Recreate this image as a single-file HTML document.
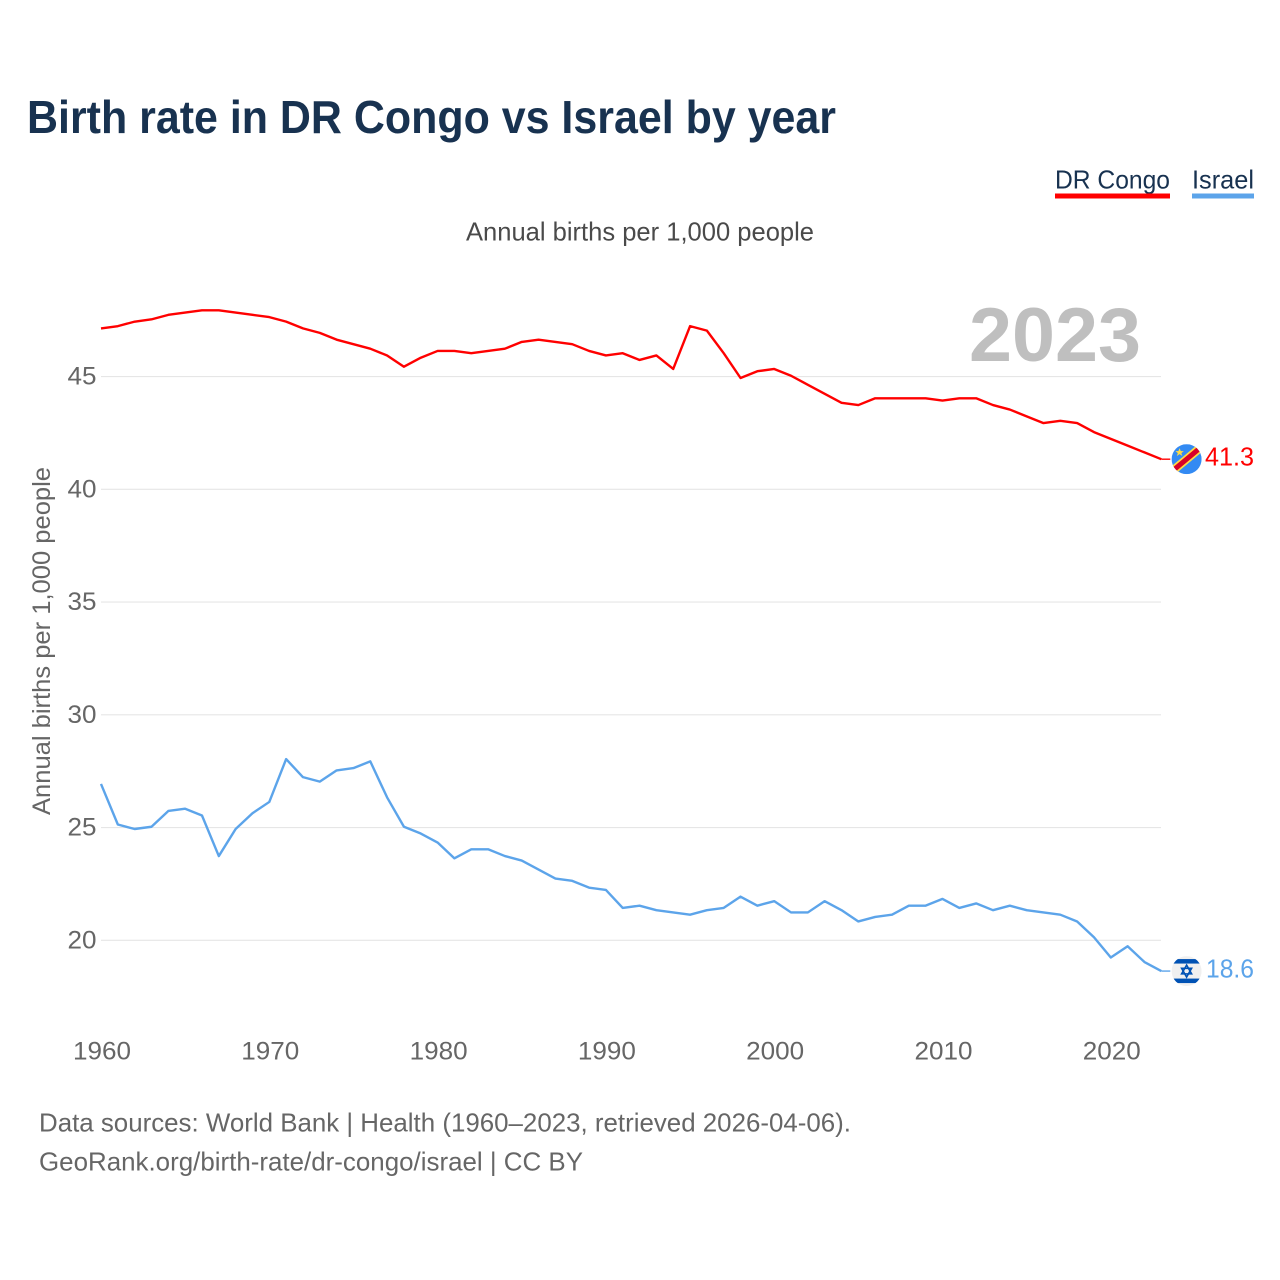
<!DOCTYPE html>
<html lang="en">
<head>
<meta charset="utf-8">
<title>Birth rate in DR Congo vs Israel by year</title>
<style>
html,body{margin:0;padding:0;background:#fff;width:1280px;height:1280px;overflow:hidden}
svg{display:block}
text{font-family:"Liberation Sans",sans-serif}
</style>
</head>
<body>
<svg id="chart" width="1280" height="1280" viewBox="0 0 1280 1280" xmlns="http://www.w3.org/2000/svg">
  <rect x="0" y="0" width="1280" height="1280" fill="#ffffff"/>
  <text x="27" y="133" font-size="46" font-weight="700" fill="#183250" textLength="809" lengthAdjust="spacingAndGlyphs">Birth rate in DR Congo vs Israel by year</text>
  <text x="1055" y="188.5" font-size="26" fill="#183250" textLength="115" lengthAdjust="spacingAndGlyphs">DR Congo</text>
  <rect x="1055" y="193.5" width="115" height="5" fill="#ff0000"/>
  <text x="1192" y="188.5" font-size="26" fill="#183250" textLength="62" lengthAdjust="spacingAndGlyphs">Israel</text>
  <rect x="1192" y="193.5" width="62" height="5" fill="#5ca4ea"/>
  <text x="466" y="240.5" font-size="26" fill="#4a4a4a" textLength="348" lengthAdjust="spacingAndGlyphs">Annual births per 1,000 people</text>
  <text x="969" y="361" font-size="76" font-weight="700" fill="#bfbfbf" textLength="172" lengthAdjust="spacingAndGlyphs">2023</text>
  <text transform="translate(50,815) rotate(-90)" x="0" y="0" font-size="25" fill="#666666" textLength="348" lengthAdjust="spacingAndGlyphs">Annual births per 1,000 people</text>
  <g id="grid"></g>
  <g id="yticks"></g>
  <g id="xticks"></g>
  <g id="series"></g>

  <g id="flag-congo">
    <clipPath id="clip-congo"><circle cx="0" cy="0" r="15"/></clipPath>
    <g clip-path="url(#clip-congo)">
      <rect x="-15" y="-15" width="30" height="30" fill="#338af3"/>
      <line x1="-18" y1="15" x2="18" y2="-15" stroke="#ffda44" stroke-width="8.5"/>
      <line x1="-18" y1="15" x2="18" y2="-15" stroke="#d80027" stroke-width="5"/>
      <polygon points="-7,-11 -5.8,-8 -2.8,-8 -5.2,-6.1 -4.3,-3.2 -7,-5 -9.7,-3.2 -8.8,-6.1 -11.2,-8 -8.2,-8" fill="#ffda44"/>
    </g>
  </g>
  <g id="flag-israel">
    <clipPath id="clip-israel"><circle cx="0" cy="0" r="15"/></clipPath>
    <g clip-path="url(#clip-israel)">
      <rect x="-15" y="-15" width="30" height="30" fill="#f0f0f0"/>
      <rect x="-15" y="-12" width="30" height="4.5" fill="#0052b4"/>
      <rect x="-15" y="7.5" width="30" height="4.5" fill="#0052b4"/>
      <polygon points="0,-6 5,2.8 -5,2.8" fill="none" stroke="#0052b4" stroke-width="1.6"/>
      <polygon points="0,6 5,-2.8 -5,-2.8" fill="none" stroke="#0052b4" stroke-width="1.6"/>
    </g>
  </g>
  <text id="label-congo" x="1205" font-size="26" fill="#ff0000" textLength="49" lengthAdjust="spacingAndGlyphs"></text>
  <text id="label-israel" x="1206" font-size="26" fill="#5ca4ea" textLength="48" lengthAdjust="spacingAndGlyphs"></text>

  <text x="39" y="1131.5" font-size="26" fill="#666666" textLength="812" lengthAdjust="spacingAndGlyphs">Data sources: World Bank | Health (1960–2023, retrieved 2026-04-06).</text>
  <text x="39" y="1170.5" font-size="26" fill="#666666" textLength="544" lengthAdjust="spacingAndGlyphs">GeoRank.org/birth-rate/dr-congo/israel | CC BY</text>
</svg>
<script>
const startYear = 1960;
const congoValues = [47.1,47.2,47.4,47.5,47.7,47.8,47.9,47.9,47.8,47.7,47.6,47.4,47.1,46.9,46.6,46.4,46.2,45.9,45.4,45.8,46.1,46.1,46.0,46.1,46.2,46.5,46.6,46.5,46.4,46.1,45.9,46.0,45.7,45.9,45.3,47.2,47.0,46.0,44.9,45.2,45.3,45.0,44.6,44.2,43.8,43.7,44.0,44.0,44.0,44.0,43.9,44.0,44.0,43.7,43.5,43.2,42.9,43.0,42.9,42.5,42.2,41.9,41.6,41.3];
const israelValues = [26.9,25.1,24.9,25.0,25.7,25.8,25.5,23.7,24.9,25.6,26.1,28.0,27.2,27.0,27.5,27.6,27.9,26.3,25.0,24.7,24.3,23.6,24.0,24.0,23.7,23.5,23.1,22.7,22.6,22.3,22.2,21.4,21.5,21.3,21.2,21.1,21.3,21.4,21.9,21.5,21.7,21.2,21.2,21.7,21.3,20.8,21.0,21.1,21.5,21.5,21.8,21.4,21.6,21.3,21.5,21.3,21.2,21.1,20.8,20.1,19.2,19.7,19.0,18.6];
const yTickValues = [20,25,30,35,40,45];
const xTickValues = [1960,1970,1980,1990,2000,2010,2020];

const NS = 'http://www.w3.org/2000/svg';
function xScale(year){ return 101 + (year - 1960) * 16.83; }
function gridY(v){ return 940.3 - (v - 20) * 22.55; }
function yScale(v){ return gridY(v) - 0.8; }
function make(tag, parent, attrs){
  const el = document.createElementNS(NS, tag);
  for (const k in attrs) el.setAttribute(k, attrs[k]);
  parent.appendChild(el);
  return el;
}

const grid = document.getElementById('grid');
const yticks = document.getElementById('yticks');
yTickValues.forEach(function(v){
  const line = make('line', grid, {x1:101, x2:1161, y1:gridY(v), y2:gridY(v), stroke:'#e6e6e6', 'stroke-width':1.2});
  
  
  const t = make('text', yticks, {x:96.5, y:gridY(v)+8, 'text-anchor':'end', 'font-size':25, fill:'#666666', textLength:29, lengthAdjust:'spacingAndGlyphs'});
  
  
  t.textContent = v;
});

const xticks = document.getElementById('xticks');
xTickValues.forEach(function(y){
  const t = make('text', xticks, {x:xScale(y)-28, y:1059.5, 'font-size':25, fill:'#666666', textLength:58, lengthAdjust:'spacingAndGlyphs'});
  
  
  t.textContent = y;
});

const series = document.getElementById('series');
function drawSeries(values, color, flagId, labelId){
  const pts = values.map(function(v,i){ return xScale(startYear+i).toFixed(2)+','+yScale(v).toFixed(2); }).join(' ');
  const line = make('polyline', series, {points:pts, fill:'none', stroke:color, 'stroke-width':2.4, 'stroke-linejoin':'round'});
  
  
  const last = values[values.length-1];
  const endX = xScale(startYear+values.length-1);
  const endY = yScale(last);
  const stub = make('line', series, {x1:endX, x2:endX+9, y1:endY, y2:endY, stroke:color, 'stroke-width':1.4});
  
  
  document.getElementById(flagId).setAttribute('transform','translate(1186.6,'+endY+')');
  const lab = document.getElementById(labelId);
  lab.setAttribute('y', endY+6.5);
  lab.textContent = last.toFixed(1);
}
drawSeries(congoValues, '#ff0000', 'flag-congo', 'label-congo');
drawSeries(israelValues, '#5ca4ea', 'flag-israel', 'label-israel');
</script>
</body>
</html>
